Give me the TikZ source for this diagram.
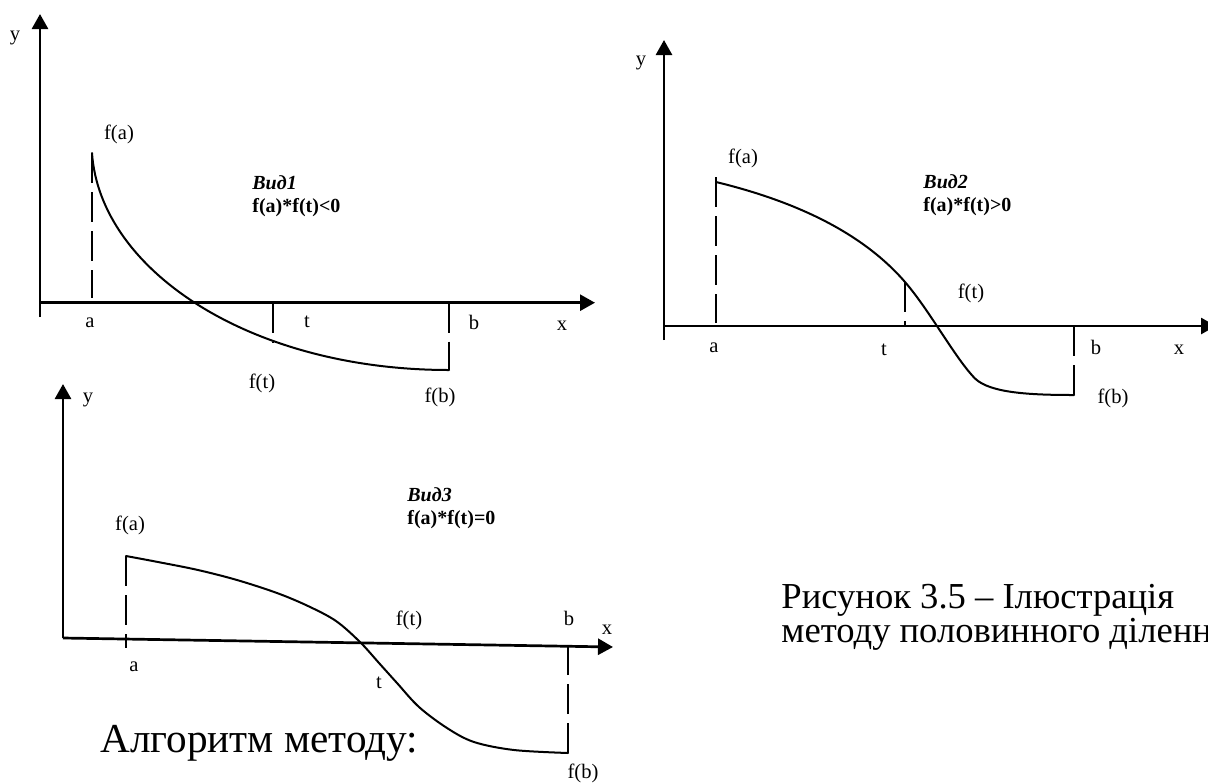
\documentclass[tikz,border=0pt]{standalone}
\usepackage{fontspec}
\setmainfont{Liberation Serif}
\usetikzlibrary{arrows.meta}
\begin{document}
\begin{tikzpicture}[x=0.5pt,y=-0.5pt,
  axis/.style={line width=1.35pt,-{Triangle[length=7.5pt,width=8pt]}},
  fcurve/.style={line width=1pt,line join=round,line cap=round},
  dline/.style={line width=1.2pt,dash pattern=on 15pt off 4.5pt},
  lbl/.style={inner sep=0pt,font=\fontsize{10.3}{12}\selectfont},
  cond/.style={inner sep=0pt,anchor=base west,align=left,font=\fontsize{10}{11.5}\selectfont\bfseries},
  big/.style={inner sep=0pt,anchor=base west,font=\fontsize{20.6}{23}\selectfont},
  captxt/.style={inner sep=0pt,anchor=base west,font=\fontsize{18.3}{21}\selectfont}]
\useasboundingbox (0,0) rectangle (1208,782);
\clip (0,0) rectangle (1208,782);

% ---------------- Graph 1 ----------------
\coordinate (o1) at (40,302.7);
\coordinate (y1b) at (40,317);
\coordinate (y1t) at (40,14);
\coordinate (x1t) at (595,302.7);
\coordinate (fa1) at (92,153);
\coordinate (a1) at (92,298);
\coordinate (t1a) at (273,302.7);
\coordinate (t1c) at (273,342);
\coordinate (b1a) at (449,302.7);
\coordinate (fb1) at (449,370);
\draw[axis] (y1b) -- (y1t);
\draw[axis] (o1) -- (x1t);
\draw[fcurve] (fa1) .. controls (100,270) and (250,370) .. (fb1);
\draw[dline] (fa1) -- (a1);
\draw[dline] (t1a) -- (t1c);
\draw[dline] (b1a) -- (fb1);
\node[lbl] (g1y) at (15,38) {y};
\node[lbl] (g1fa) at (119,134) {f(a)};
\node[lbl] (g1a) at (90,323) {a};
\node[lbl] (g1t) at (307,322) {t};
\node[lbl] (g1b) at (474,322) {b};
\node[lbl] (g1x) at (562,326) {x};
\node[lbl] (g1ft) at (262,383) {f(t)};
\node[lbl] (g1fb) at (440,397) {f(b)};
\node[cond] (g1c) at (252,212.6) {\textit{Вид1}\\f(a)*f(t)<0};

% ---------------- Graph 2 ----------------
\coordinate (o2) at (664,326);
\coordinate (y2b) at (664,340);
\coordinate (y2t) at (664,40);
\coordinate (x2t) at (1216,326);
\coordinate (fa2) at (716,182);
\coordinate (a2t) at (716,177);
\coordinate (a2) at (716,323);
\coordinate (ft2) at (905,282);
\coordinate (bend2) at (975,378.5);
\coordinate (t2a) at (905,326);
\coordinate (b2a) at (1074,326);
\coordinate (fb2) at (1074,395);
\draw[axis] (y2b) -- (y2t);
\draw[axis] (o2) -- (x2t);
\draw[fcurve] (fa2) .. controls (790,200) and (860,230) .. (ft2)
  .. controls (930,311) and (955,358) .. (bend2)
  .. controls (990,393) and (1030,395) .. (fb2);
\draw[dline] (a2t) -- (a2);
\draw[dline] (ft2) -- (t2a);
\draw[dline] (b2a) -- (fb2);
\node[lbl] (g2y) at (641,63) {y};
\node[lbl] (g2fa) at (743,158) {f(a)};
\node[lbl] (g2a) at (714,348) {a};
\node[lbl] (g2t) at (884,350) {t};
\node[lbl] (g2ft) at (971,293) {f(t)};
\node[lbl] (g2b) at (1096,347) {b};
\node[lbl] (g2x) at (1179,350) {x};
\node[lbl] (g2fb) at (1113,398) {f(b)};
\node[cond] (g2c) at (923,211.6) {\textit{Вид2}\\f(a)*f(t)>0};

% ---------------- Graph 3 ----------------
\coordinate (o3) at (63,638);
\coordinate (y3t) at (63,384);
\coordinate (x3t) at (613,647);
\coordinate (fa3) at (126,556);
\coordinate (a3) at (126,648);
\coordinate (b3a) at (568,646);
\coordinate (fb3) at (568,753);
\draw[axis] (o3) -- (y3t);
\draw[axis] (o3) -- (x3t);
\draw[fcurve] plot[smooth,tension=0.55] coordinates {(fa3) (158,562) (198,570) (237,580) (277,593) (308,606) (336,621) (360,642) (379,663) (397,683) (419,707) (447,728) (474,742) (514,750) (fb3)};
\draw[dline] (fa3) -- (a3);
\draw[dline] (fb3) -- (b3a);
\node[lbl] (g3y) at (88,400) {y};
\node[lbl] (g3fa) at (130,525) {f(a)};
\node[lbl] (g3a) at (134,667) {a};
\node[lbl] (g3t) at (379,683) {t};
\node[lbl] (g3ft) at (409,620) {f(t)};
\node[lbl] (g3b) at (569,618) {b};
\node[lbl] (g3x) at (607,630) {x};
\node[lbl] (g3fb) at (583,773) {f(b)};
\node[cond] (g3c) at (407,524.6) {\textit{Вид3}\\f(a)*f(t)=0};

% ---------------- Texts ----------------
\node[big] (alg) at (100,752.7) {Алгоритм методу:};
\node[captxt] (cap1) at (781,608) {Рисунок 3.5 – Ілюстрація};
\node[captxt] (cap2) at (781,642) {методу половинного ділення};
\end{tikzpicture}
\end{document}
